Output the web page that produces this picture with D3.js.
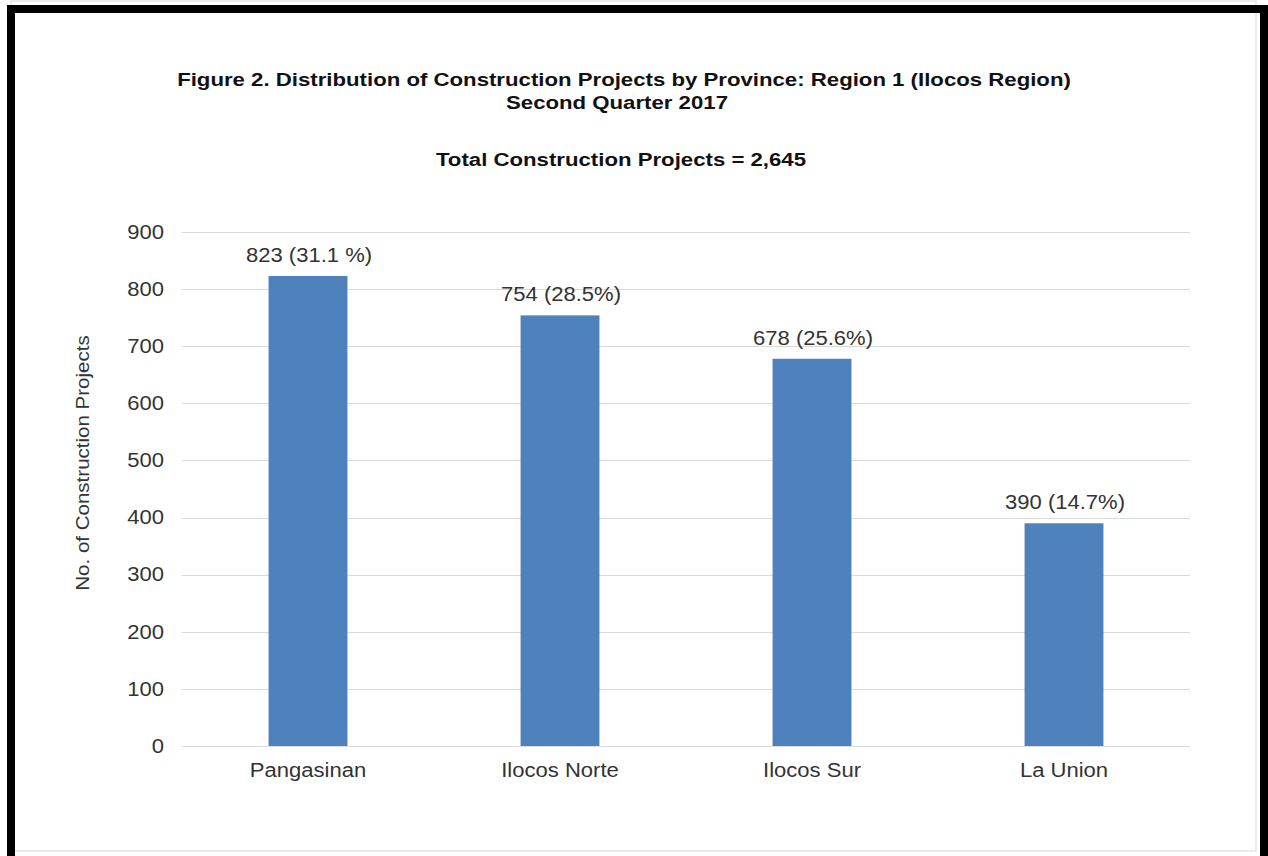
<!DOCTYPE html>
<html>
<head>
<meta charset="utf-8">
<script src="https://cdn.jsdelivr.net/npm/d3@7"></script>
<style>
  body { margin: 0; background: #fff; }
  svg { display: block; font-family: "Liberation Sans", Arial, sans-serif; }
</style>
</head>
<body>
<div id="vis-container"></div>
<script>
/* DATA */
let provinces = ["Pangasinan", "Ilocos Norte", "Ilocos Sur", "La Union"];
let projects = [823, 754, 678, 390];
let valueLabels = ["823 (31.1 %)", "754 (28.5%)", "678 (25.6%)", "390 (14.7%)"];
let yTicks = [0, 100, 200, 300, 400, 500, 600, 700, 800, 900];
let titleLines = ["Figure 2. Distribution of Construction Projects by Province: Region 1 (Ilocos Region)", "Second Quarter 2017"];
let subtitle = "Total Construction Projects = 2,645";
let yTitle = "No. of Construction Projects";

/* CHART */
let width = 1268, height = 856;
let margin = {top: 232, right: 78, bottom: 110, left: 182},
    dWidth = width - margin.left - margin.right,
    dHeight = height - margin.top - margin.bottom;

// the source picture is stretched sideways, so text is widened a bit
let sx = 1.13, sxTitle = 1.2;
let fontSize = 19.5, titleSize = 18.5;
let textColor = "#333";

let svg = d3.select('#vis-container')
  .append('svg')
  .attr('width', width)
  .attr('height', height);

// outer frame
svg.append("rect")
  .attr("x", 11).attr("y", 1).attr("width", 1245).attr("height", 850)
  .attr("fill", "#fff").attr("stroke", "#d9d9d9").attr("stroke-width", 1);
svg.append("path")
  .attr("d", "M11,856 V9 H1264 V856")
  .attr("fill", "none").attr("stroke", "#000").attr("stroke-width", 8);

let x = d3.scaleBand().domain(provinces).range([0, dWidth])
  .paddingInner(0.687).paddingOuter(0.3435);
let y = d3.scaleLinear().domain([0, 900]).range([dHeight, 0]);

let g = svg.append("g").attr("transform", `translate(${margin.left},${margin.top})`);

// gridlines
g.append("g")
  .selectAll("line")
  .data(yTicks)
  .join("line")
  .attr("x1", 0).attr("x2", dWidth)
  .attr("y1", d => Math.round(y(d)) + 0.5).attr("y2", d => Math.round(y(d)) + 0.5)
  .attr("stroke", "#d9d9d9").attr("stroke-width", 1);

// y axis
let yAxis = g.append("g")
  .call(d3.axisLeft(y).tickValues(yTicks).tickSize(0).tickPadding(16));
yAxis.select(".domain").remove();
yAxis.selectAll("text")
  .attr("font-size", fontSize).attr("fill", textColor)
  .attr("font-family", "Liberation Sans, Arial, sans-serif")
  .attr("transform", `scale(${sx},1)`);

// x axis
let xAxis = g.append("g")
  .attr("transform", "translate(0," + dHeight + ")")
  .call(d3.axisBottom(x).tickSize(0));
xAxis.select(".domain").remove();
xAxis.selectAll("text")
  .attr("y", 31).attr("dy", null)
  .attr("font-size", fontSize).attr("fill", textColor)
  .attr("font-family", "Liberation Sans, Arial, sans-serif")
  .attr("transform", `scale(${sx},1)`);

// bars
g.selectAll(".bar")
  .data(projects)
  .join("rect")
  .attr("class", "bar")
  .attr("x", (d, i) => x(provinces[i]))
  .attr("y", d => y(d))
  .attr("width", x.bandwidth())
  .attr("height", d => dHeight - y(d))
  .attr("fill", "#4f81bd");

// value labels
g.selectAll(".vlabel")
  .data(projects)
  .join("g")
  .attr("class", "vlabel")
  .attr("transform", (d, i) => `translate(${x(provinces[i]) + x.bandwidth() / 2 + 1},${y(d) - 14})`)
  .append("text")
  .attr("text-anchor", "middle")
  .attr("transform", `scale(${sx},1)`)
  .attr("font-size", fontSize)
  .attr("fill", textColor)
  .text((d, i) => valueLabels[i]);

// y title
svg.append("text")
  .attr("transform", "translate(89,463) rotate(-90) scale(1.14,1)")
  .attr("text-anchor", "middle")
  .attr("font-size", 18)
  .attr("fill", textColor)
  .text(yTitle);

// titles
svg.selectAll(".title")
  .data(titleLines)
  .join("g")
  .attr("class", "title")
  .attr("transform", (d, i) => `translate(${i ? 617 : 624},${86 + i * 23})`)
  .append("text")
  .attr("text-anchor", "middle")
  .attr("transform", `scale(${sxTitle},1)`)
  .attr("font-size", titleSize)
  .attr("font-weight", "bold")
  .attr("fill", "#111")
  .text(d => d);

svg.append("g")
  .attr("transform", "translate(621,166)")
  .append("text")
  .attr("text-anchor", "middle")
  .attr("transform", `scale(${sxTitle},1)`)
  .attr("font-size", titleSize)
  .attr("font-weight", "bold")
  .attr("fill", "#111")
  .text(subtitle);
</script>
</body>
</html>
